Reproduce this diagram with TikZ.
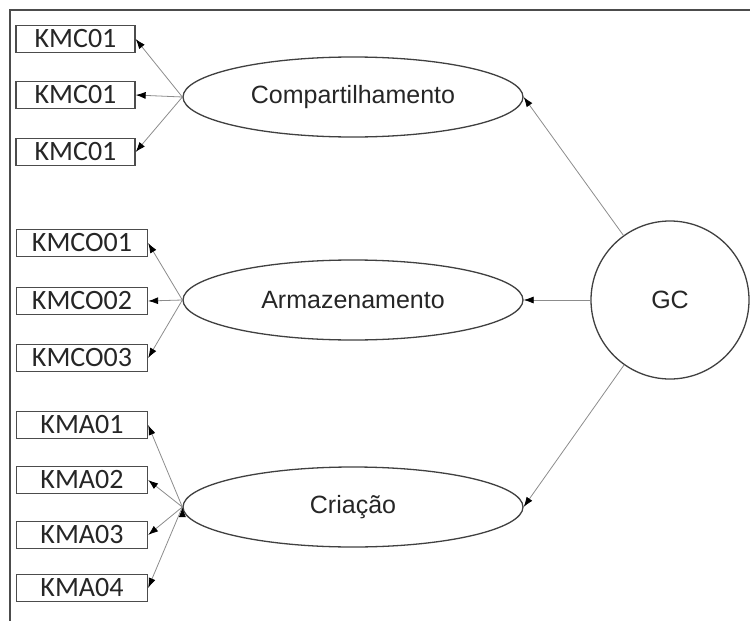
\documentclass[tikz,border=0pt]{standalone}
\usepackage{fontspec}
\setmainfont{Liberation Sans}
\newfontfamily\itemfont{Carlito}
\usepackage{tikz}
\usetikzlibrary{positioning}
\usetikzlibrary{shapes.geometric}
\usetikzlibrary{arrows.meta}

\begin{document}
\begin{tikzpicture}[x=1pt,y=-1pt
            ,item/.style={draw=black!70,line width=1.3pt,minimum height=27pt
                         ,inner sep=0pt,text=black!85
                         ,font=\itemfont\fontsize{28}{30}\selectfont}
            ,construct/.style={ellipse,draw=black!75,line width=1.3pt
                              ,minimum width=340pt,minimum height=80pt
                              ,inner sep=0pt,text=black!85
                              ,font=\fontsize{25}{30}\selectfont}
            ,load/.style={draw=black!45,line width=0.8pt
                         ,-{Latex[black,length=10pt,width=7pt]}}]
  \useasboundingbox (0,0) rectangle (750,621);
  \draw[black!70,line width=2pt] (750,10) -- (10,10) -- (10,621);

  % indicators
  \node[item,minimum width=119pt] (kmc1) at (75.5,39) {KMC01};
  \node[item,minimum width=119pt] (kmc2) at (75.5,95) {KMC01};
  \node[item,minimum width=119pt] (kmc3) at (75.5,152) {KMC01};
  \node[item,minimum width=131pt] (kmco1) at (82,243) {KMCO01};
  \node[item,minimum width=131pt] (kmco2) at (82,301) {KMCO02};
  \node[item,minimum width=131pt] (kmco3) at (82,358) {KMCO03};
  \node[item,minimum width=131pt] (kma1) at (82,425) {KMA01};
  \node[item,minimum width=131pt] (kma2) at (82,480) {KMA02};
  \node[item,minimum width=131pt] (kma3) at (82,535) {KMA03};
  \node[item,minimum width=131pt] (kma4) at (82,588) {KMA04};

  % constructs
  \node[construct] (comp) at (353,97) {Compartilhamento};
  \node[construct] (arm) at (353,300) {Armazenamento};
  \node[construct] (cria) at (353,507) {Criação};
  \node[circle,draw=black!75,line width=1.3pt,minimum size=158pt,inner sep=0pt
       ,text=black!85,font=\fontsize{25}{30}\selectfont] (gc) at (670,300) {GC};

  \path[load]
    (gc) edge (comp.east)
    (gc) edge (arm.east)
    (gc) edge (cria.east)
    (comp.west) edge (kmc1.east)
    (comp.west) edge (kmc2.east)
    (comp.west) edge (kmc3.east)
    (arm.west) edge (kmco1.east)
    (arm.west) edge (kmco2.east)
    (arm.west) edge (kmco3.east)
    (cria.west) edge (kma1.east)
    (cria.west) edge (kma2.east)
    (cria.west) edge (kma3.east)
    (cria.west) edge (kma4.east)
    ;
\end{tikzpicture}
\end{document}
